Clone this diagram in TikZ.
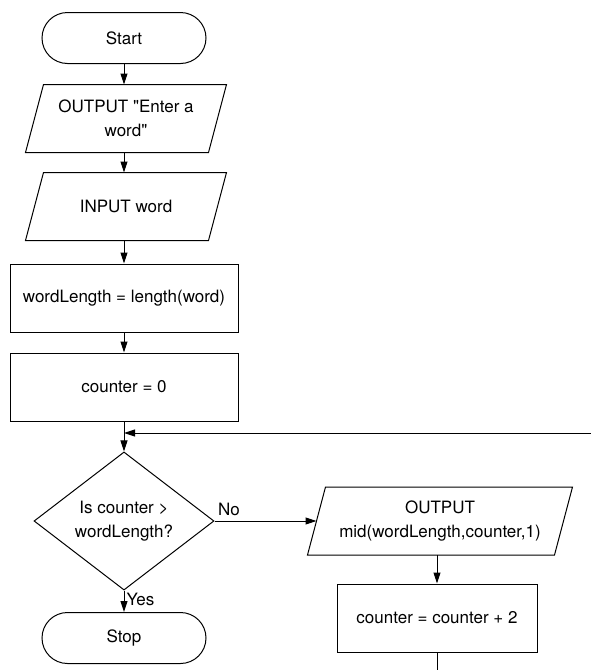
\documentclass[tikz,border=0pt]{standalone}
\usepackage{fontspec}
\setmainfont[Ligatures=TeXOff]{TeX Gyre Heros}
\usetikzlibrary{arrows.meta,shapes.geometric}
\begin{document}
\begin{tikzpicture}[x=1pt,y=-1pt,
  font=\fontsize{17}{24}\selectfont,
  line width=1pt,
  every node/.style={align=center,inner sep=0pt},
  term/.style={draw,rectangle,rounded corners=25.5pt,minimum width=164pt,minimum height=51pt},
  proc/.style={draw,rectangle,minimum width=228pt,minimum height=68pt},
  iobox/.style={rectangle,minimum height=67pt},
  dec/.style={draw,diamond,minimum width=180pt,minimum height=135pt},
  arr/.style={-{Triangle[length=11pt,width=7pt]}},
  lbl/.style={font=\fontsize{17}{20}\selectfont}]
\useasboundingbox (0,0) rectangle (591,670);
\node[term] (start) at (124,38) {Start};
\node[iobox,minimum width=182pt] (out1) at (126,118.5) {OUTPUT "Enter a\\word"};
\node[iobox,minimum width=182pt] (in1) at (126,206.5) {INPUT word};
\node[proc] (wl) at (124,298) {wordLength = length(word)};
\node[proc] (c0) at (124,387) {counter = 0};
\node[dec] (d) at (124,521) {Is counter \textgreater\\wordLength?};
\node[term] (stop) at (124,638) {Stop};
\node[iobox,minimum width=246pt] (out2) at (440,521) {OUTPUT\\mid(wordLength,counter,1)};
\node[proc,minimum width=200pt] (cp2) at (437,618) {counter = counter + 2};
\foreach \n/\s in {out1/9,in1/9,out2/9}{
  \draw ([xshift=\s pt]\n.north west) -- ([xshift=\s pt]\n.north east)
     -- ([xshift=-\s pt]\n.south east) -- ([xshift=-\s pt]\n.south west) -- cycle;
}
\coordinate (bot) at (437,670);
\coordinate (rin) at (591,433);
\coordinate (join) at (124,433);
\draw[arr] (start.south) -- (start.south |- out1.north);
\draw[arr] (out1.south -| start.south) -- (start.south |- in1.north);
\draw[arr] (in1.south -| start.south) -- (wl.north);
\draw[arr] (wl.south) -- (c0.north);
\draw[arr] (c0.south) -- (d.north);
\draw[arr] (rin) -- (join);
\draw[arr] (d.south) -- (stop.north) node[lbl,pos=0.4,anchor=west,xshift=2pt] {Yes};
\draw[arr] (d.east) -- (out2.west) node[lbl,pos=0,anchor=south west,xshift=3pt,yshift=5pt] {No};
\draw[arr] (out2.south -| cp2.north) -- (cp2.north);
\draw (cp2.south) -- (bot);
\end{tikzpicture}
\end{document}
